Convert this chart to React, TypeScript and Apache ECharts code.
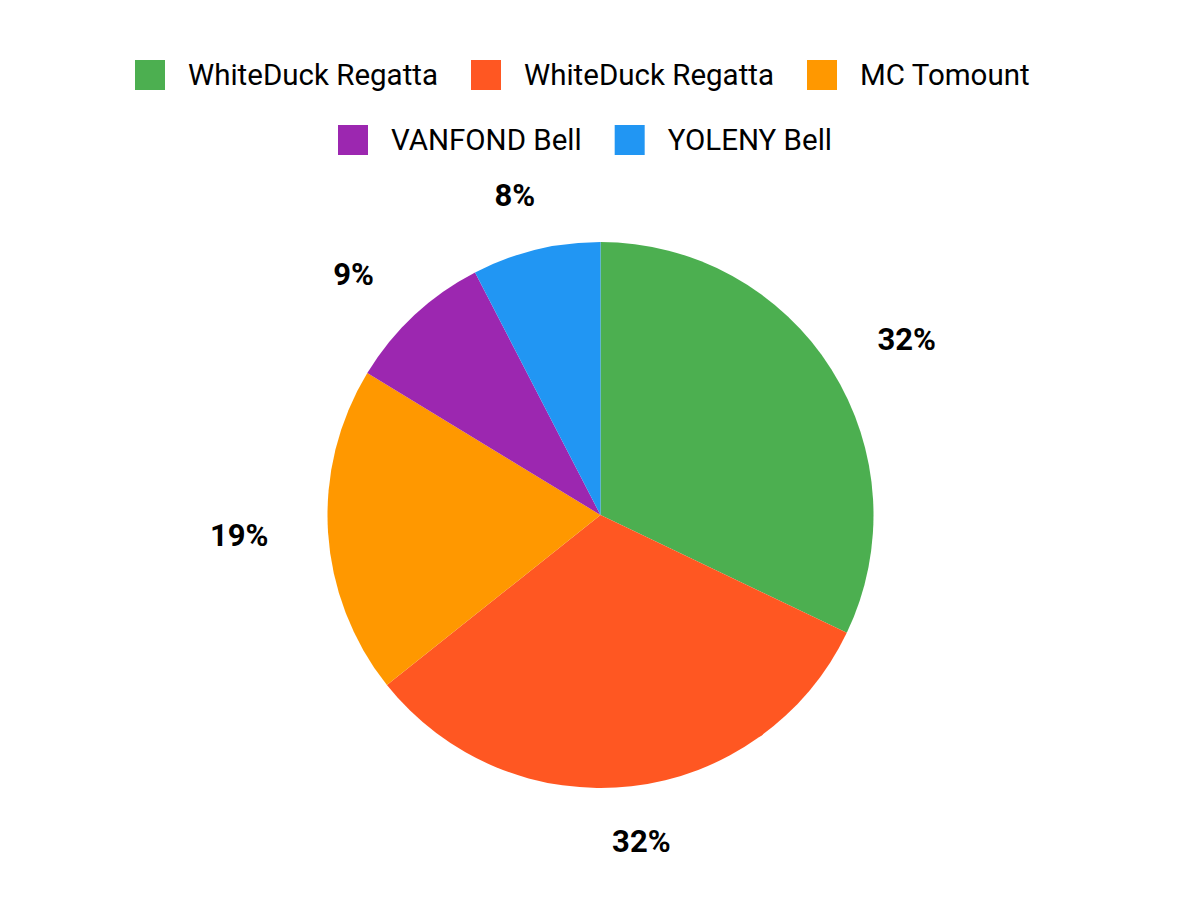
import React, { useEffect, useRef } from 'react';
import * as echarts from 'echarts';

const names = ['WhiteDuck Regatta', 'WhiteDuck Regatta ', 'MC Tomount', 'VANFOND Bell', 'YOLENY Bell'];
const values = [32.1, 32.2, 19.4, 8.7, 7.6];
const colors = ['#4CAF50', '#FF5722', '#FF9800', '#9C27B0', '#2196F3'];

const CX = 600.5;
const CY = 515;
const R = 273;

const App: React.FC = () => {
    const chartRef = useRef<HTMLDivElement>(null);

    useEffect(() => {
        if (!chartRef.current) return;

        const myChart = echarts.init(chartRef.current, null, { renderer: 'svg' });

        const total = values.reduce((a, b) => a + b, 0);
        // mid angle of each slice, measured clockwise from 12 o'clock
        const midAngles: number[] = [];
        let acc = 0;
        values.forEach((v) => {
            midAngles.push(((acc + v / 2) / total) * Math.PI * 2);
            acc += v;
        });

        const legendText = {
            fontFamily: 'Roboto',
            fontSize: 29.5,
            color: '#000',
            padding: [0, 0, 0, 18]
        };

        const option: echarts.EChartsOption = {
            animation: false,
            color: colors,
            legend: [
                {
                    data: names.slice(0, 3),
                    left: 130,
                    top: 55,
                    icon: 'rect',
                    itemWidth: 30,
                    itemHeight: 30,
                    itemGap: 33,
                    textStyle: legendText,
                    formatter: (n: string) => n.trim()
                },
                {
                    data: names.slice(3),
                    left: 333,
                    top: 120,
                    icon: 'rect',
                    itemWidth: 30,
                    itemHeight: 30,
                    itemGap: 33,
                    textStyle: legendText
                }
            ],
            series: [
                {
                    type: 'pie',
                    center: [CX, CY],
                    radius: R,
                    startAngle: 90,
                    percentPrecision: 0,
                    data: names.map((n, i) => ({ name: n, value: values[i] })),
                    label: {
                        show: true,
                        position: 'outside',
                        formatter: '{d}%',
                        fontFamily: 'Roboto',
                        fontSize: 31,
                        fontWeight: 'bold',
                        color: '#000'
                    },
                    labelLine: { show: false },
                    labelLayout: (params: any) => {
                        const a = midAngles[params.dataIndex];
                        return {
                            x: CX + R * 1.326 * Math.sin(a),
                            y: CY - R * 1.205 * Math.cos(a),
                            align: 'center',
                            verticalAlign: 'middle'
                        };
                    },
                    emphasis: { disabled: true }
                }
            ]
        };

        myChart.setOption(option);

        return () => {
            myChart.dispose();
        };
    }, []);

    return (
        <div
            ref={chartRef}
            style={{
                position: 'absolute',
                left: 0,
                top: 0,
                width: '1200px',
                height: '900px'
            }}
        />
    );
};

export default App;
